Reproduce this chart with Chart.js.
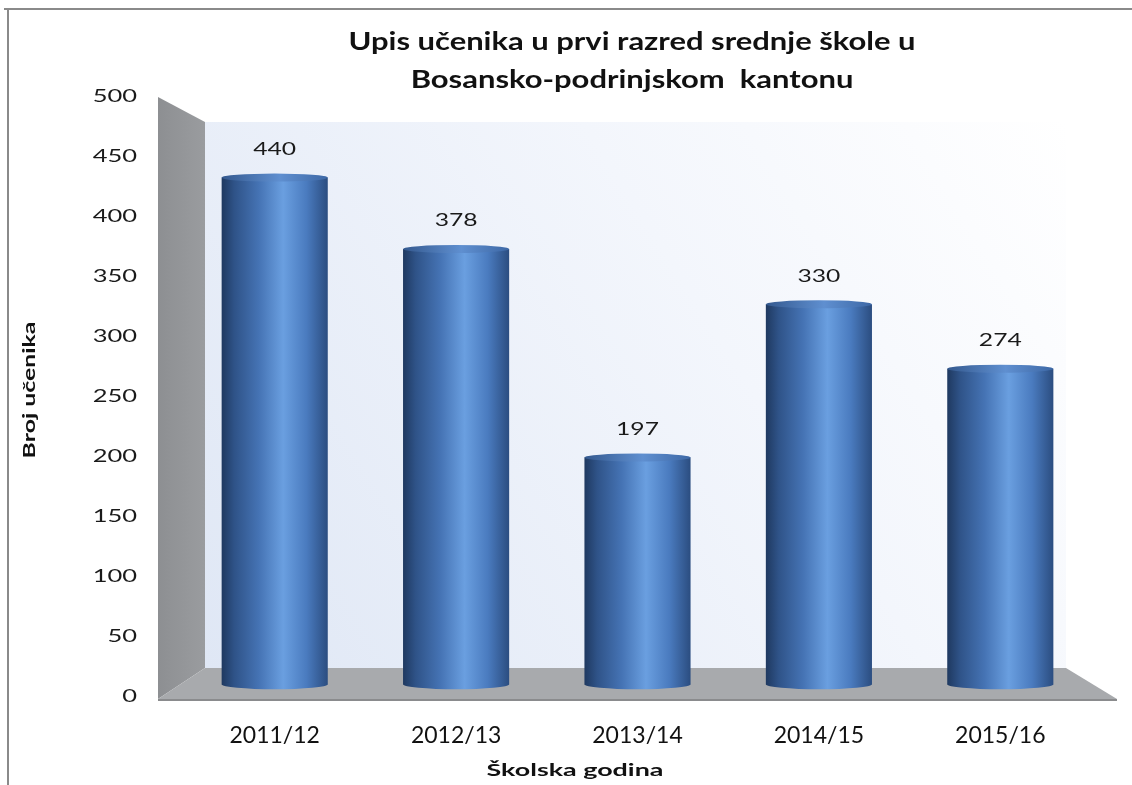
<!DOCTYPE html>
<html>
<head>
<meta charset="utf-8">
<script src="https://cdn.jsdelivr.net/npm/chart.js@4.4.0/dist/chart.umd.min.js"></script>
<style>
  html, body { margin: 0; padding: 0; background: #fff; overflow: hidden; }
  #wrap { width: 1132px; height: 785px; }
</style>
</head>
<body>
<div id="wrap"><canvas id="chart"></canvas></div>
<script>
// data
const years = ['2011/12', '2012/13', '2013/14', '2014/15', '2015/16'];
const students = [440, 378, 197, 330, 274];
const yTicks = [0, 50, 100, 150, 200, 250, 300, 350, 400, 450, 500];
const titleLines = ['Upis učenika u prvi razred srednje škole u', 'Bosansko-podrinjskom  kantonu'];
const yTitle = 'Broj učenika';
const xTitle = 'Školska godina';

const FONT = 'Lato, "Open Sans", sans-serif';

// text in the original is squeezed/stretched sideways, so draw it with a x scale
function wideText(ctx, text, x, y, font, sx, align) {
  ctx.save();
  ctx.font = font;
  ctx.textAlign = align || 'center';
  ctx.textBaseline = 'middle';
  ctx.translate(x, y);
  ctx.scale(sx, 1);
  ctx.fillText(text, 0, 0);
  ctx.restore();
}

// grey walls + floor of the excel 3d look
const backdrop = {
  id: 'backdrop',
  beforeDatasetsDraw(chart) {
    const { ctx, chartArea: a } = chart;
    const L = a.left, R = a.right, T = a.top, B = a.bottom;
    ctx.save();
    // back wall
    let g = ctx.createLinearGradient(L + 21, B - 29, R - 25, T + 25);
    g.addColorStop(0, '#dfe7f5');
    g.addColorStop(0.6, '#f3f6fc');
    g.addColorStop(1, '#ffffff');
    ctx.fillStyle = g;
    ctx.fillRect(L + 21, T + 25, (R - 25) - (L + 21), (B - 29) - (T + 25));
    // left side wall
    g = ctx.createLinearGradient(L - 26, 0, L + 21, 0);
    g.addColorStop(0, '#8d8f92');
    g.addColorStop(1, '#9a9c9f');
    ctx.fillStyle = g;
    ctx.beginPath();
    ctx.moveTo(L - 26, T);
    ctx.lineTo(L + 21, T + 25);
    ctx.lineTo(L + 21, B - 29);
    ctx.lineTo(L - 26, B + 2);
    ctx.closePath();
    ctx.fill();
    // floor
    ctx.fillStyle = '#a8aaad';
    ctx.beginPath();
    ctx.moveTo(L - 26, B + 2);
    ctx.lineTo(L + 21, B - 29);
    ctx.lineTo(R - 25, B - 29);
    ctx.lineTo(R + 26, B + 2);
    ctx.closePath();
    ctx.fill();
    ctx.fillStyle = '#8a8b8d';
    ctx.fillRect(L - 26, B + 2, (R + 26) - (L - 26), 2);
    ctx.restore();
  }
};

// cylinders painted over the (transparent) bar elements
const cylinders = {
  id: 'cylinders',
  afterDatasetsDraw(chart) {
    const { ctx } = chart;
    const meta = chart.getDatasetMeta(0);
    ctx.save();
    meta.data.forEach((el, i) => {
      const rx = el.width / 2, ry = 4;
      const x0 = el.x - rx, x1 = el.x + rx;
      const g = ctx.createLinearGradient(x0, 0, x1, 0);
      g.addColorStop(0, '#1f3960');
      g.addColorStop(0.12, '#2f5388');
      g.addColorStop(0.35, '#4573b4');
      g.addColorStop(0.58, '#6a9fe0');
      g.addColorStop(0.8, '#4a7bbf');
      g.addColorStop(1, '#2b4d80');
      ctx.fillStyle = g;
      ctx.fillRect(x0, el.y, el.width, el.base - el.y);
      ctx.beginPath();
      ctx.ellipse(el.x, el.base, rx, ry + 1, 0, 0, Math.PI * 2);
      ctx.fill();
      // top cap
      const gt = ctx.createLinearGradient(x0, 0, x1, 0);
      gt.addColorStop(0, '#34598f');
      gt.addColorStop(0.55, '#5f8fd0');
      gt.addColorStop(1, '#3d68a6');
      ctx.fillStyle = gt;
      ctx.beginPath();
      ctx.ellipse(el.x, el.y, rx, ry, 0, 0, Math.PI * 2);
      ctx.fill();
      // value label
      ctx.fillStyle = '#1a1a1a';
      wideText(ctx, String(students[i]), el.x, el.y - 28, '17px ' + FONT, 1.45);
    });
    ctx.restore();
  }
};

// y tick labels, titles and the frame lines
const texts = {
  id: 'texts',
  afterDraw(chart) {
    const { ctx } = chart;
    const ys = chart.scales.y;
    ctx.save();
    ctx.fillStyle = '#8a8a8a';
    ctx.fillRect(4, 8, 1128, 2);
    ctx.fillRect(7, 8, 2, 777);

    ctx.fillStyle = '#1a1a1a';
    ys.ticks.forEach(t => {
      wideText(ctx, String(t.value), 137, ys.getPixelForValue(t.value), '17px ' + FONT, 1.5, 'right');
    });

    ctx.fillStyle = '#111';
    ctx.font = 'bold 25px ' + FONT;
    const sx = 567 / ctx.measureText(titleLines[0]).width;
    wideText(ctx, titleLines[0], 632, 42, 'bold 25px ' + FONT, sx);
    wideText(ctx, titleLines[1], 632, 80, 'bold 25px ' + FONT, sx);

    wideText(ctx, xTitle, 575, 771, 'bold 17px ' + FONT, 1.58);
    ctx.translate(30, 390);
    ctx.rotate(-Math.PI / 2);
    wideText(ctx, yTitle, 0, 0, 'bold 17px ' + FONT, 1.46);
    ctx.restore();
  }
};

new Chart(document.getElementById('chart'), {
  type: 'bar',
  data: {
    labels: years,
    datasets: [{
      data: students,
      yAxisID: 'yBars',
      backgroundColor: 'rgba(0,0,0,0)',
      borderWidth: 0,
      categoryPercentage: 1,
      barPercentage: 0.585
    }]
  },
  options: {
    responsive: true,
    maintainAspectRatio: false,
    animation: false,
    layout: { padding: { top: 97, right: 41, left: 0, bottom: 0 } },
    plugins: { legend: { display: false }, tooltip: { enabled: false } },
    scales: {
      x: {
        grid: { display: false },
        border: { display: false },
        ticks: { color: '#111', font: { size: 23, family: FONT }, padding: 17, maxRotation: 0 },
        afterFit(s) { s.height = 88; }
      },
      y: {
        min: 0,
        max: 500,
        position: 'left',
        grid: { display: false, drawTicks: false },
        border: { display: false },
        ticks: { display: false },
        afterBuildTicks(s) { s.ticks = yTicks.map(v => ({ value: v })); },
        afterFit(s) { s.width = 184; }
      },
      // bars sit a little deeper in the 3d box than the front tick labels
      yBars: { display: false, min: -11, max: 510 }
    }
  },
  plugins: [backdrop, cylinders, texts]
});
</script>
</body>
</html>
